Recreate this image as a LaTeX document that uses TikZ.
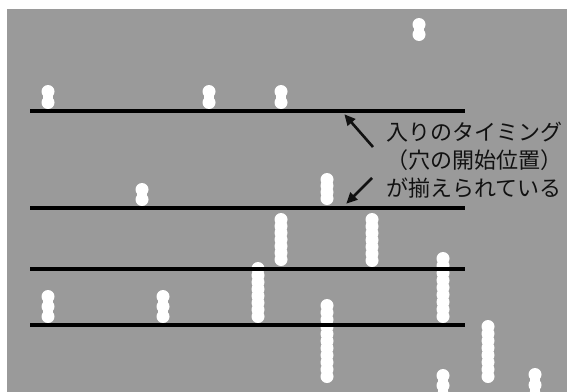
\documentclass[tikz,border=0pt]{standalone}
\usepackage{fontspec}
\newfontfamily\jpfont{Noto Sans CJK JP}
\usetikzlibrary{arrows.meta}
\definecolor{rollgray}{RGB}{154,154,154}
\definecolor{inkblack}{RGB}{17,17,17}
\tikzset{
  barline/.style={line width=4pt, black},
  pointer/.style={line width=2.6pt, inkblack, -{Triangle[length=11pt,width=10pt]}, shorten >=-1pt},
  caption/.style={font=\jpfont\fontsize{22pt}{28pt}\selectfont, text=inkblack, inner sep=0pt, anchor=base west},
  hole/.style={fill=white}
}
\newcommand\holestack[4]{%
  \pgfmathsetmacro\hsstep{(#3-#2-13)/(#4-1)}%
  \pgfmathtruncatemacro\hslast{#4-1}%
  \fill[hole] ({#1-4.6},{#2+6.5}) rectangle ({#1+4.6},{#3-6.5});%
  \foreach \hsi in {0,...,\hslast}{%
    \fill[hole] (#1,{#2+6.5+\hsi*\hsstep}) circle[radius=6.5pt];}%
}
\begin{document}
\begin{tikzpicture}[x=1pt,y=-1pt]
\clip (0,0) rectangle (567,391);
\fill[white] (0,0) rectangle (567,391);
\fill[rollgray] (7,9) rectangle (570,395);
% holes
\holestack{48}{85}{109}{2}
\holestack{209}{85}{109}{2}
\holestack{281}{85}{109}{2}
\holestack{419}{18}{41}{2}
\holestack{142}{183}{206}{2}
\holestack{327}{173}{205}{4}
\holestack{281}{213}{266}{7}
\holestack{372}{213}{267}{7}
\holestack{258}{262}{323}{8}
\holestack{443}{252}{323}{9}
\holestack{48}{290}{323}{3}
\holestack{163}{290}{323}{3}
\holestack{327}{299}{383}{11}
\holestack{488}{320}{383}{8}
\holestack{443}{369}{402}{3}
\holestack{535}{368}{402}{3}
% bar lines
\coordinate (l1a) at (30,111); \coordinate (l1b) at (465,111);
\coordinate (l2a) at (30,208); \coordinate (l2b) at (465,208);
\coordinate (l3a) at (30,269); \coordinate (l3b) at (465,269);
\coordinate (l4a) at (30,325); \coordinate (l4b) at (465,325);
\draw[barline] (l1a) -- (l1b);
\draw[barline] (l2a) -- (l2b);
\draw[barline] (l3a) -- (l3b);
\draw[barline] (l4a) -- (l4b);
% arrows
\coordinate (p1s) at (373,147); \coordinate (p1e) at (345,115);
\coordinate (p2s) at (372,178); \coordinate (p2e) at (347,203);
\draw[pointer] (p1s) -- (p1e);
\draw[pointer] (p2s) -- (p2e);
% caption
\node[caption] (t1) at (386,140.5) {入りのタイミング};
\node[caption] (t2) at (386,168.5) {（穴の開始位置）};
\node[caption] (t3) at (386,196.5) {が揃えられている};
\end{tikzpicture}
\end{document}
